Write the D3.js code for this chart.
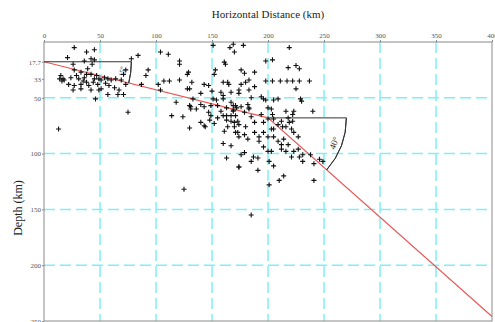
<!DOCTYPE html>
<html>
<head>
<meta charset="utf-8">
<script src="https://cdn.jsdelivr.net/npm/d3@7"></script>
<style>
  html, body { margin: 0; padding: 0; background: #fff; }
  svg { display: block; }
</style>
</head>
<body>
<svg id="plot" width="495" height="322"></svg>
<script>
// earthquake hypocentres: [horizontal distance (km), depth (km)]
const quakes = [
  [27, 5], [38, 9], [45, 7], [21, 14], [42, 15], [45, 16], [26, 20], [36, 17], [43, 20],
  [84, 12], [78, 15], [73, 25], [15, 30], [17, 33], [18, 34], [27, 25], [29, 30], [33, 27],
  [36, 32], [39, 24], [42, 29], [45, 33], [49, 33], [51, 34], [54, 32], [57, 33], [60, 34],
  [64, 33], [69, 34], [71, 29], [22, 38], [27, 39], [33, 38], [38, 36], [40, 39], [44, 36],
  [48, 38], [51, 42], [33, 42], [26, 43], [42, 43], [58, 39], [63, 41], [67, 43], [73, 38],
  [87, 38], [93, 25], [91, 30], [57, 47], [66, 47], [71, 47], [46, 51], [49, 43], [38, 29],
  [31, 33], [14, 33], [16, 35], [75, 63], [13, 78], [35, 35], [47, 30], [24, 32], [55, 37],
  [104, 9], [111, 11], [151, 3], [166, 5], [170, 9], [161, 18], [162, 20], [121, 17], [121, 20],
  [129, 27], [128, 29], [132, 36], [153, 25], [152, 29], [176, 25], [160, 36], [164, 36],
  [165, 38], [102, 38], [107, 35], [112, 35], [121, 34], [128, 42], [130, 42], [143, 38],
  [147, 39], [150, 44], [140, 46], [104, 43], [151, 51], [158, 45], [160, 48], [160, 51],
  [167, 45], [174, 43], [133, 51], [118, 54], [130, 57], [131, 60], [140, 56], [143, 58],
  [149, 57], [155, 57], [163, 59], [169, 57], [167, 54], [154, 52],
  [169, 2], [178, 3], [219, 5], [198, 17], [204, 16], [179, 28], [188, 27], [218, 23],
  [225, 21], [228, 24], [176, 38], [180, 36], [183, 34], [188, 40], [198, 35], [204, 35],
  [211, 35], [217, 35], [222, 35], [228, 35], [237, 35], [225, 42], [174, 46], [183, 43],
  [185, 50], [194, 49], [196, 51], [198, 52], [209, 51], [205, 52], [229, 51], [230, 53],
  [182, 56], [183, 59], [200, 59], [171, 57],
  [114, 66], [124, 67], [130, 77], [140, 72], [143, 75], [144, 76], [131, 58], [136, 60],
  [147, 63], [149, 66], [148, 70], [158, 62], [160, 66], [163, 66], [167, 66], [171, 66],
  [163, 70], [167, 71], [173, 71], [161, 80], [164, 76], [170, 76], [171, 81], [174, 85],
  [160, 91], [167, 93], [163, 104], [174, 112], [172, 59], [169, 61], [155, 68], [152, 73],
  [169, 62], [176, 58], [179, 63], [183, 60], [185, 67], [170, 72], [174, 74], [180, 76],
  [188, 72], [194, 65], [196, 72], [200, 69], [204, 65], [205, 69], [209, 74], [212, 71],
  [213, 76], [216, 76], [218, 68], [219, 72], [222, 71], [221, 78], [223, 81], [227, 85],
  [216, 62], [222, 65], [223, 62], [203, 60], [240, 62], [173, 81], [179, 83], [188, 81],
  [192, 85], [182, 87], [192, 89], [196, 94], [205, 85], [209, 89], [212, 92], [214, 87],
  [218, 92], [212, 96], [216, 98], [223, 98], [227, 96], [228, 103], [231, 101], [221, 103],
  [200, 98], [203, 98], [176, 101], [179, 99], [187, 103], [191, 104], [185, 107], [201, 107],
  [205, 111], [201, 128], [191, 115], [174, 112], [210, 124], [214, 120], [231, 107],
  [238, 101], [241, 109], [246, 105], [249, 107], [241, 124], [185, 155], [200, 85],
  [203, 78], [196, 81], [205, 78], [125, 132]
];

// slab trace (red line): surface point, bend, end
const slabDist = [0, 200, 400];
const slabDepth = [17.7, 68, 246];

// dip annotations: vertex of each segment, arc radius (km), dip label
const dipVertex = [[0, 17.7], [200, 68]];
const dipRadius = [78, 70];
const dipLabel = ['15°', '40°'];

const xTicks = [0, 50, 100, 150, 200, 250, 300, 350, 400];
const yTicks = [17.7, 33, 50, 100, 150, 200, 250];
const xGrid = [50, 100, 150, 200, 250, 300, 350];
const yGrid = [50, 100, 150, 200];

const margin = { top: 42, right: 3, bottom: 1, left: 44 };
const W = 495, H = 322;

const svg = d3.select('#plot');
const x = d3.scaleLinear().domain([0, 400]).range([margin.left, W - margin.right]);
const y = d3.scaleLinear().domain([0, 250]).range([margin.top, H - margin.bottom]);

// grid
svg.append('g').selectAll('line').data(xGrid).join('line')
  .attr('x1', d => x(d)).attr('x2', d => x(d))
  .attr('y1', y(0)).attr('y2', y(250))
  .attr('stroke', '#7ff0f4').attr('stroke-width', 1.5)
  .attr('stroke-dasharray', '11,5');
svg.append('g').selectAll('line').data(yGrid).join('line')
  .attr('y1', d => y(d)).attr('y2', d => y(d))
  .attr('x1', x(0)).attr('x2', x(400))
  .attr('stroke', '#7ff0f4').attr('stroke-width', 1.5)
  .attr('stroke-dasharray', '11,5');

// frame
svg.append('rect')
  .attr('x', x(0)).attr('y', y(0))
  .attr('width', x(400) - x(0)).attr('height', y(250) - y(0))
  .attr('fill', 'none').attr('stroke', '#8a8a8a').attr('stroke-width', 1);

// axes
const font = 'Liberation Serif, Times New Roman, serif';
const xAxis = svg.append('g')
  .attr('transform', `translate(0,${y(0)})`)
  .call(d3.axisTop(x).tickValues(xTicks).tickSize(2).tickFormat(d3.format('d')));
const yAxis = svg.append('g')
  .attr('transform', `translate(${x(0)},0)`)
  .call(d3.axisLeft(y).tickValues(yTicks).tickSize(2).tickFormat(d => d));
[xAxis, yAxis].forEach(a => {
  a.select('.domain').remove();
  a.selectAll('line').attr('stroke', '#8a8a8a');
  a.selectAll('text').attr('font-family', font).attr('font-size', 7).attr('fill', '#555');
});
xAxis.selectAll('text').attr('dy', '0.1em');
yAxis.selectAll('text').attr('x', -3);

// slab line
const slab = slabDist.map((d, i) => [d, slabDepth[i]]);
svg.append('path')
  .datum(slab)
  .attr('fill', 'none')
  .attr('stroke', '#e85a5a')
  .attr('stroke-width', 1.2)
  .attr('d', d3.line().x(d => x(d[0])).y(d => y(d[1])));

// dip markers
dipVertex.forEach((v, i) => {
  const cx = x(v[0]), cy = y(v[1]);
  const r = x(v[0] + dipRadius[i]) - cx;
  const nx = slab[i + 1];
  const ang = Math.atan2(y(nx[1]) - cy, x(nx[0]) - cx);
  const g = svg.append('g').attr('transform', `translate(${cx},${cy})`);
  g.append('line').attr('x1', 0).attr('y1', 0).attr('x2', r).attr('y2', 0)
    .attr('stroke', '#333').attr('stroke-width', 1);
  g.append('path')
    .attr('d', d3.arc()({ innerRadius: r, outerRadius: r, startAngle: Math.PI / 2, endAngle: Math.PI / 2 + ang }))
    .attr('fill', 'none').attr('stroke', '#333').attr('stroke-width', 1);
  const mid = ang / 2, lr = r * 0.9;
  g.append('text')
    .attr('transform', `translate(${lr * Math.cos(mid)},${lr * Math.sin(mid)}) rotate(${mid * 180 / Math.PI - 90})`)
    .attr('text-anchor', 'middle').attr('dy', '0.35em')
    .attr('font-family', font).attr('font-size', i === 0 ? 7 : 9).attr('fill', '#333')
    .text(dipLabel[i]);
});

// hypocentres
svg.append('g').selectAll('path').data(quakes).join('path')
  .attr('transform', d => `translate(${x(d[0])},${y(d[1])})`)
  .attr('d', 'M-2.5,0H2.5M0,-2.5V2.5')
  .attr('stroke', '#111').attr('stroke-width', 1.1);

// titles
svg.append('text')
  .attr('x', 268).attr('y', 18)
  .attr('text-anchor', 'middle')
  .attr('font-family', font).attr('font-size', 11).attr('fill', '#222')
  .text('Horizontal Distance (km)');
svg.append('text')
  .attr('transform', 'translate(22,208) rotate(-90)')
  .attr('text-anchor', 'middle')
  .attr('font-family', font).attr('font-size', 12).attr('fill', '#222')
  .text('Depth (km)');
</script>
</body>
</html>
